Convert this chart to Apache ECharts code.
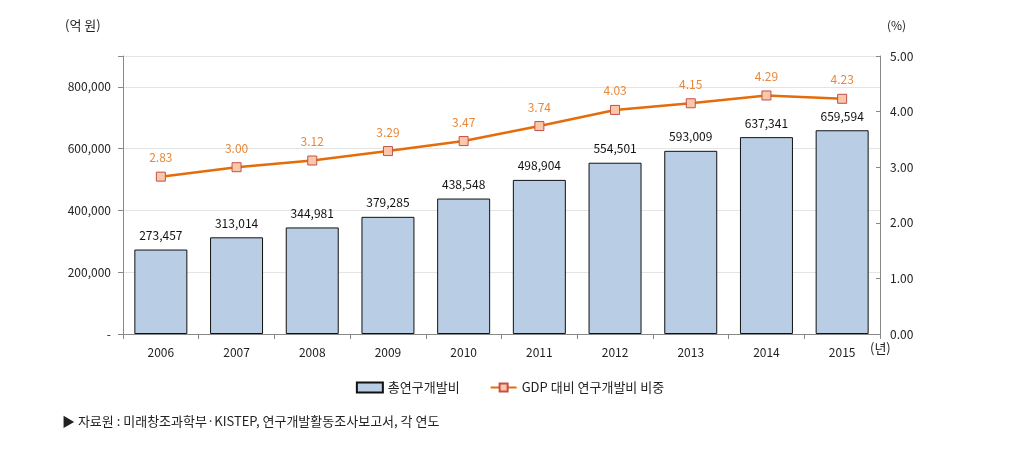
<!DOCTYPE html>
<html><head><meta charset="utf-8">
<script src="https://cdn.jsdelivr.net/npm/echarts@6/dist/echarts.min.js"></script>
<style>html,body{margin:0;padding:0;background:#fff}#c{width:1020px;height:459px}</style>
</head><body><div id="c"></div>
<script>
const years = ['2006','2007','2008','2009','2010','2011','2012','2013','2014','2015'];
const rdTotal = [273457,313014,344981,379285,438548,498904,554501,593009,637341,659594];
const rdGdpRatio = [2.83,3.00,3.12,3.29,3.47,3.74,4.03,4.15,4.29,4.23];
const barName = '총연구개발비';
const lineName = 'GDP 대비 연구개발비 비중';
const sourceText = '▶ 자료원 : 미래창조과학부·KISTEP, 연구개발활동조사보고서, 각 연도';

const F = '"Noto Sans CJK KR", "Noto Sans", sans-serif';
const chart = echarts.init(document.getElementById('c'));
chart.setOption({
  animation: false,
  textStyle: {fontFamily: F},
  grid: {left: 123, right: 140, top: 56, bottom: 125},
  graphic: [
    {type:'text', left: 65, top: 19, style:{text:'(억 원)', font:'13px '+F, fill:'#222'}},
    {type:'text', left: 887, top: 19, style:{text:'(%)', font:'12px '+F, fill:'#222'}},
    {type:'text', left: 870, top: 342, style:{text:'(년)', font:'13px '+F, fill:'#222'}},
    {type:'text', left: 62, top: 415, style:{text: sourceText, font:'13px '+F, fill:'#222'}}
  ],
  legend: {
    bottom: 60, left: 'center', itemGap: 30, itemWidth: 26, itemHeight: 10,
    textStyle: {fontSize: 13, color: '#222', fontFamily: F},
    data: [{name: barName, icon: 'rect'}, {name: lineName}]
  },
  xAxis: {
    type: 'category', data: years,
    axisLine: {lineStyle: {color: '#888'}},
    axisTick: {show: true, alignWithLabel: false, length: 5, lineStyle: {color: '#888'}},
    axisLabel: {color: '#222', fontSize: 12, margin: 12}
  },
  yAxis: [
    {type: 'value', min: 0, max: 900000, interval: 200000,
     axisLine: {show: true, lineStyle: {color: '#888'}},
     axisTick: {show: true, length: 5, lineStyle: {color: '#888'}},
     splitLine: {lineStyle: {color: '#e4e4e4'}},
     axisLabel: {color: '#222', fontSize: 12, margin: 12,
       formatter: v => v === 0 ? '-' : (v > 800000 ? '' : v.toLocaleString('en-US'))}},
    {type: 'value', min: 0, max: 5, interval: 1, position: 'right',
     axisLine: {show: true, lineStyle: {color: '#888'}},
     axisTick: {show: true, inside: true, length: 4, lineStyle: {color: '#888'}},
     splitLine: {show: false},
     axisLabel: {color: '#222', fontSize: 12, margin: 10, formatter: v => v.toFixed(2)}}
  ],
  series: [
    {name: barName, type: 'bar', data: rdTotal, barCategoryGap: '30%',
     itemStyle: {color: '#B9CDE5', borderColor: '#111', borderWidth: 1},
     label: {show: true, position: 'top', distance: 8, color: '#111', fontSize: 12,
       formatter: p => p.value.toLocaleString('en-US')}},
    {name: lineName, type: 'line', yAxisIndex: 1, data: rdGdpRatio,
     symbol: 'rect', symbolSize: 9,
     lineStyle: {color: '#E46C0A', width: 2.5},
     itemStyle: {color: '#FAC8A8', borderColor: '#C0504D', borderWidth: 1},
     label: {show: true, position: 'top', distance: 8, color: '#E8883A', fontSize: 12,
       formatter: p => p.value.toFixed(2)}}
  ]
});
</script></body></html>
